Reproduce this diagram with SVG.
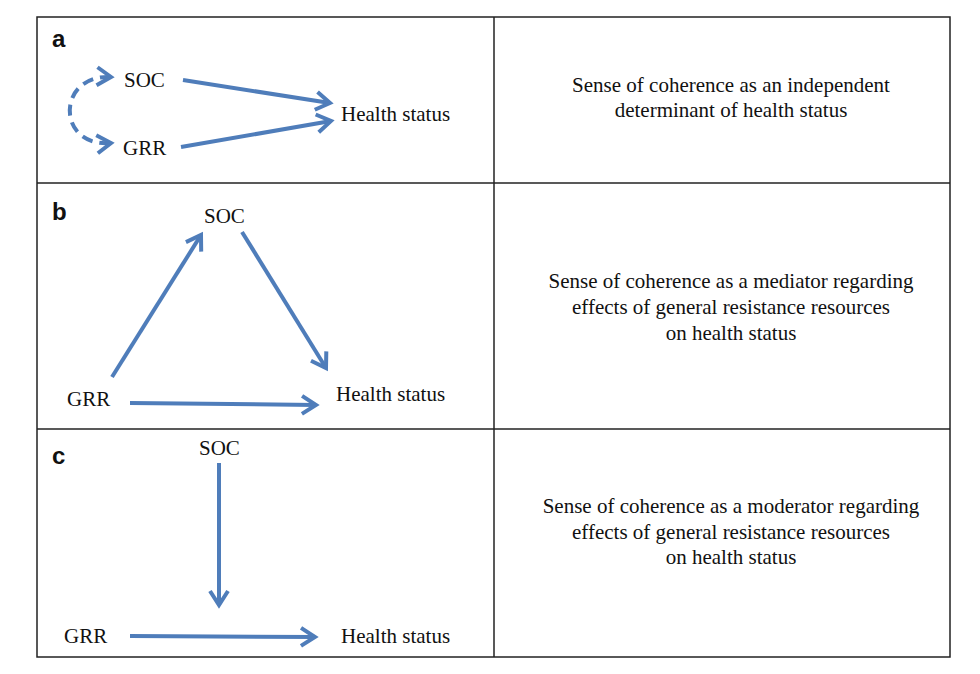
<svg xmlns="http://www.w3.org/2000/svg" width="980" height="674" viewBox="0 0 980 674">
<style>
.t{font-family:"Liberation Serif","Times New Roman",serif;font-size:21px;fill:#111}
.lbl{font-family:"Liberation Sans",Arial,sans-serif;font-size:24px;font-weight:bold;fill:#111}
.c{fill:none;stroke:#4F7DBA;stroke-width:4}
.grid{fill:none;stroke:#222;stroke-width:1.5}
</style>
<defs>
<marker id="ah" markerUnits="userSpaceOnUse" orient="auto-start-reverse" markerWidth="30" markerHeight="30" refX="0" refY="0" viewBox="-20 -15 30 30" overflow="visible">
<path d="M-14,-9 L0,0 L-14,9" fill="none" stroke="#4F7DBA" stroke-width="4" stroke-linejoin="miter"/>
</marker>
</defs>
<rect width="980" height="674" fill="#fff"/>
<g id="table" class="grid">
<rect x="37" y="17" width="913" height="640"/>
<line x1="494" y1="17" x2="494" y2="657"/>
<line x1="37" y1="183" x2="950" y2="183"/>
<line x1="37" y1="429" x2="950" y2="429"/>
</g>
<g id="connectors">
<path class="c" d="M111,77 C56,74 56,148 111,143" stroke-dasharray="11,7" marker-start="url(#ah)" marker-end="url(#ah)"/>
<line class="c" x1="183" y1="80" x2="330" y2="103" marker-end="url(#ah)"/>
<line class="c" x1="181" y1="147" x2="331" y2="121" marker-end="url(#ah)"/>
<line class="c" x1="112" y1="377" x2="201" y2="235" marker-end="url(#ah)"/>
<line class="c" x1="242" y1="232" x2="326" y2="368" marker-end="url(#ah)"/>
<line class="c" x1="130" y1="403" x2="316" y2="405" marker-end="url(#ah)"/>
<line class="c" x1="219" y1="463" x2="219" y2="605" marker-end="url(#ah)"/>
<line class="c" x1="130" y1="636" x2="315" y2="637" marker-end="url(#ah)"/>
</g>
<g id="panel-a">
<text class="lbl" x="52" y="47">a</text>
<g id="a-soc"><text class="t" x="124" y="87">SOC</text></g>
<g id="a-grr"><text class="t" x="123" y="155">GRR</text></g>
<g id="a-health"><text class="t" x="341" y="121">Health status</text></g>
<g id="a-desc"><text class="t" text-anchor="middle" x="731" y="92">Sense of coherence as an independent</text>
<text class="t" text-anchor="middle" x="731" y="117">determinant of health status</text></g>
</g>
<g id="panel-b">
<text class="lbl" x="52" y="220">b</text>
<g id="b-soc"><text class="t" x="204" y="223">SOC</text></g>
<g id="b-grr"><text class="t" x="67" y="406">GRR</text></g>
<g id="b-health"><text class="t" x="336" y="401">Health status</text></g>
<g id="b-desc"><text class="t" text-anchor="middle" x="731" y="288">Sense of coherence as a mediator regarding</text>
<text class="t" text-anchor="middle" x="731" y="314">effects of general resistance resources</text>
<text class="t" text-anchor="middle" x="731" y="340">on health status</text></g>
</g>
<g id="panel-c">
<text class="lbl" x="52" y="464">c</text>
<g id="c-soc"><text class="t" x="199" y="455">SOC</text></g>
<g id="c-grr"><text class="t" x="64" y="643">GRR</text></g>
<g id="c-health"><text class="t" x="341" y="643">Health status</text></g>
<g id="c-desc"><text class="t" text-anchor="middle" x="731" y="513">Sense of coherence as a moderator regarding</text>
<text class="t" text-anchor="middle" x="731" y="539">effects of general resistance resources</text>
<text class="t" text-anchor="middle" x="731" y="564">on health status</text></g>
</g>
</svg>
